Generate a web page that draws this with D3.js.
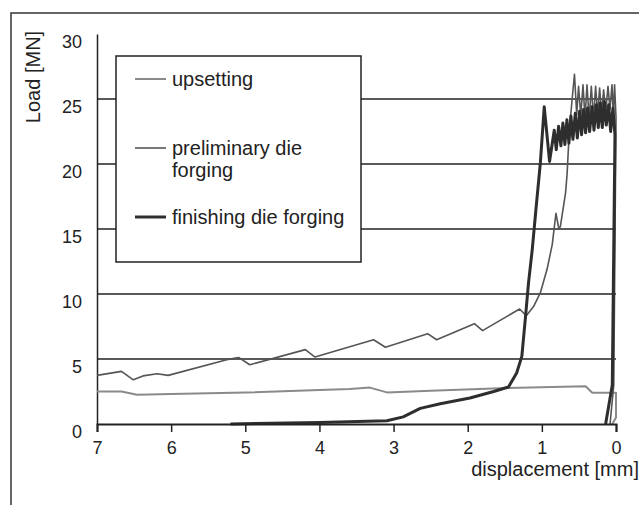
<!DOCTYPE html>
<html>
<head>
<meta charset="utf-8">
<script src="https://cdn.jsdelivr.net/npm/d3@7"></script>
<style>
  body { margin: 0; background: #fff; }
  svg text { font-family: "Liberation Sans", Arial, sans-serif; fill: #222; }
</style>
</head>
<body>
<div id="chart"></div>
<script>
// tick values
var xTicks = [7, 6, 5, 4, 3, 2, 1, 0];
var yTicks = [0, 5, 10, 15, 20, 25, 30];
var gridValues = [5, 10, 15, 20, 25];

// series: [displacement mm, load MN]
var upsetting = [
  [7.0, 2.5], [6.67, 2.5], [6.46, 2.25], [6.0, 2.3], [5.0, 2.42], [4.0, 2.62],
  [3.59, 2.69], [3.32, 2.8], [3.09, 2.43], [2.5, 2.55], [1.47, 2.77],
  [0.41, 2.9], [0.32, 2.4], [0.0, 2.4], [0.0, 0.5], [0.05, 0]
];

var preliminary = [
  [7.0, 3.74], [6.67, 4.05], [6.51, 3.4], [6.38, 3.7], [6.19, 3.87], [6.04, 3.74],
  [5.25, 4.95], [5.09, 5.12], [4.94, 4.56], [4.19, 5.72], [4.06, 5.15],
  [3.27, 6.48], [3.11, 5.9], [2.54, 6.95], [2.42, 6.48], [1.91, 7.72],
  [1.8, 7.18], [1.3, 8.85], [1.21, 8.33], [1.11, 9.05], [1.02, 10.1],
  [0.93, 11.9], [0.86, 13.8], [0.81, 16.2], [0.77, 15.0], [0.75, 15.2],
  [0.68, 17.8], [0.66, 19.2], [0.63, 22.5], [0.59, 25.1], [0.56, 26.9],
  [0.53, 23.8], [0.505, 25.97], [0.475, 23.7], [0.445, 26.1], [0.418, 23.5],
  [0.391, 26.1], [0.362, 23.4], [0.333, 25.97], [0.304, 23.5], [0.275, 25.97],
  [0.248, 23.8], [0.221, 25.85], [0.194, 23.9], [0.167, 25.7], [0.138, 24.05],
  [0.108, 25.97], [0.081, 24.2], [0.054, 26.1], [0.036, 23.8], [0.019, 26.1],
  [0.0, 23.6], [0.03, 3], [0.08, 0]
];

var finishing = [
  [5.2, 0], [4.0, 0.12], [3.09, 0.25], [2.87, 0.55], [2.64, 1.2], [2.37, 1.56],
  [1.97, 2.0], [1.65, 2.5], [1.45, 2.85], [1.34, 3.92], [1.27, 5.2],
  [1.22, 8.28], [1.18, 10.85], [1.13, 13.4], [1.08, 16.5], [1.02, 20.1],
  [0.968, 24.4], [0.896, 20.2], [0.833, 22.6], [0.806, 21.1], [0.774, 22.9],
  [0.743, 21.4], [0.716, 23.15], [0.689, 21.5], [0.662, 23.4], [0.635, 21.6],
  [0.608, 23.7], [0.581, 21.9], [0.549, 23.9], [0.522, 22.0], [0.491, 24.05],
  [0.464, 22.25], [0.437, 24.2], [0.41, 22.4], [0.383, 24.3], [0.356, 22.5],
  [0.324, 24.4], [0.297, 22.6], [0.266, 24.55], [0.239, 22.8], [0.212, 24.7],
  [0.185, 22.8], [0.158, 24.8], [0.131, 23.0], [0.099, 24.55], [0.072, 22.5],
  [0.041, 24.3], [0.014, 22.25], [0.05, 3], [0.14, 0]
];

var seriesNames = ["upsetting", "preliminary die\nforging", "finishing die forging"];

document.addEventListener("DOMContentLoaded", function () {
  var width = 639;
  var height = 505;

  var svg = d3
    .select("#chart")
    .append("svg")
    .attr("width", width)
    .attr("height", height);

  // outer frame (only top and left edges show)
  svg.append("path")
    .attr("d", "M11,505V13H639")
    .attr("fill", "none")
    .attr("stroke", "#333")
    .attr("stroke-width", 1.5);

  var x = d3.scaleLinear().domain([7, 0]).range([97, 616]);
  var y = d3.scaleLinear().domain([0, 30]).range([424, 34]);

  // gridlines
  svg.append("g")
    .selectAll("line")
    .data(gridValues)
    .join("line")
    .attr("x1", x(7))
    .attr("x2", x(0))
    .attr("y1", (d) => y(d))
    .attr("y2", (d) => y(d))
    .attr("stroke", "#222")
    .attr("stroke-width", 1.5);

  // y axis
  var yAxis = svg.append("g")
    .attr("transform", "translate(" + x(7) + ",0)")
    .call(d3.axisLeft(y).tickValues(yTicks).tickSize(0).tickPadding(15));
  yAxis.select(".domain").attr("stroke", "#222").attr("stroke-width", 1.5);
  yAxis.selectAll("text")
    .attr("font-size", 18)
    .attr("dy", "0.75em");

  // series lines
  var line = d3.line()
    .x((d) => x(d[0]))
    .y((d) => y(d[1]));

  var styles = [
    { data: upsetting, color: "#8a8a8a", w: 2 },
    { data: preliminary, color: "#555", w: 1.6 },
    { data: finishing, color: "#2e2e2e", w: 3 }
  ];

  svg.append("g")
    .selectAll("path")
    .data(styles)
    .join("path")
    .attr("d", (d) => line(d.data))
    .attr("fill", "none")
    .attr("stroke", (d) => d.color)
    .attr("stroke-width", (d) => d.w)
    .attr("stroke-linejoin", "round");

  // x axis
  var xAxis = svg.append("g")
    .attr("transform", "translate(0," + y(0) + ")")
    .call(
      d3.axisBottom(x)
        .tickValues(xTicks)
        .tickFormat(d3.format("d"))
        .tickSizeOuter(0)
        .tickSize(8)
        .tickPadding(9)
    );
  xAxis.select(".domain").attr("stroke", "#222").attr("stroke-width", 2);
  xAxis.selectAll(".tick line").attr("stroke", "#222").attr("stroke-width", 1.5);
  xAxis.selectAll("text").attr("font-size", 18);

  // axis titles
  svg.append("text")
    .attr("transform", "translate(40,77) rotate(-90)")
    .attr("text-anchor", "middle")
    .attr("font-size", 20)
    .text("Load [MN]");

  svg.append("text")
    .attr("x", 639)
    .attr("y", 476)
    .attr("text-anchor", "end")
    .attr("font-size", 20)
    .text("displacement [mm]");

  // legend
  var legend = svg.append("g");
  legend.append("rect")
    .attr("x", 116)
    .attr("y", 56)
    .attr("width", 245)
    .attr("height", 206)
    .attr("fill", "#fff")
    .attr("stroke", "#222")
    .attr("stroke-width", 1.5);

  var legendY = [79, 148, 217];
  var item = legend.selectAll(".legend-item")
    .data(styles)
    .join("g")
    .attr("class", "legend-item")
    .attr("transform", (d, i) => "translate(0," + legendY[i] + ")");

  item.append("line")
    .attr("x1", 135)
    .attr("x2", 166)
    .attr("stroke", (d) => d.color)
    .attr("stroke-width", (d) => d.w);

  item.append("text")
    .attr("x", 172)
    .attr("y", 7)
    .attr("font-size", 20)
    .selectAll("tspan")
    .data((d, i) => seriesNames[i].split("\n"))
    .join("tspan")
    .attr("x", 172)
    .attr("dy", (d, j) => (j === 0 ? 0 : 22))
    .text((d) => d);
});
</script>
</body>
</html>
